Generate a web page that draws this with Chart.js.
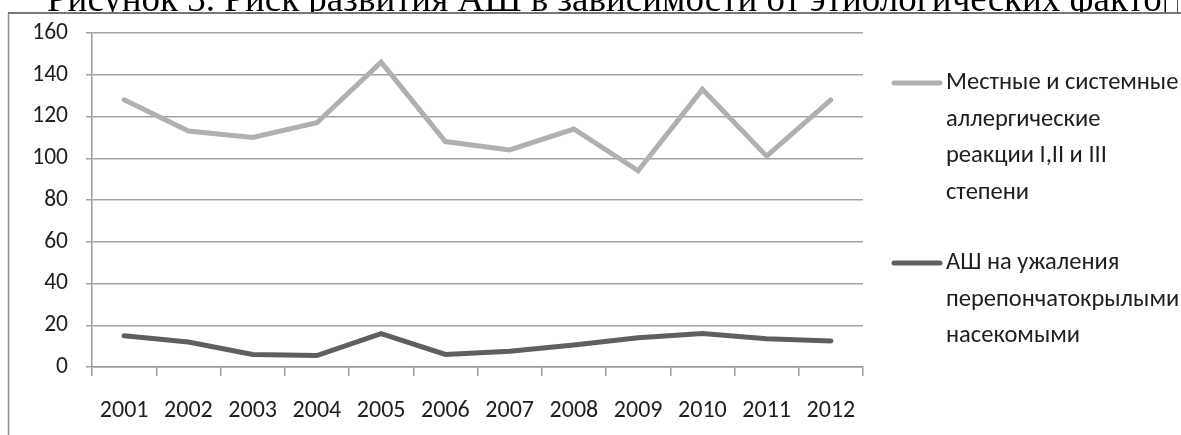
<!DOCTYPE html>
<html lang="ru">
<head>
<meta charset="utf-8">
<title>Рисунок 3</title>
<script src="https://cdn.jsdelivr.net/npm/chart.js@4/dist/chart.umd.min.js"></script>
<style>
  html, body { margin: 0; padding: 0; background: #fff; }
  #wrap { width: 1181px; height: 435px; position: relative; overflow: hidden; }
  canvas { display: block; }
</style>
</head>
<body>
<div id="wrap"><canvas id="chart" width="1181" height="435"></canvas></div>
<script>
// Years on the category axis
const years = ['2001', '2002', '2003', '2004', '2005', '2006', '2007', '2008', '2009', '2010', '2011', '2012'];

// Local and systemic allergic reactions, grades I–III
const allergicReactions = [128, 113, 110, 117, 146, 108, 104, 114, 94, 133, 101, 128];

// Anaphylactic shock after hymenoptera stings
const anaphylacticShock = [15, 12, 6, 5.5, 16, 6, 7.5, 10.5, 14, 16, 13.5, 12.5];

// Legend text, one entry per line
const allergicLegend = ['Местные и системные', 'аллергические', 'реакции I,II и III', 'степени'];
const shockLegend = ['АШ на ужаления', 'перепончатокрылыми', 'насекомыми'];

// Value axis ticks
const yMin = 0, yMax = 160, yStep = 20;

const figureTitle = 'Рисунок 3. Риск развития АШ в зависимости от этиологических факторов';

const sansFont = '"Carlito", "Calibri", "Lato", sans-serif';

// Page frame and caption above the plot
const framePlugin = {
  id: 'frame',
  beforeDraw(chart) {
    const ctx = chart.ctx;
    ctx.save();
    ctx.fillStyle = '#fff';
    ctx.fillRect(0, 0, chart.width, chart.height);

    // caption, partly hidden above the box edge
    ctx.save();
    ctx.beginPath();
    ctx.rect(0, 0, 1166, 13);
    ctx.clip();
    ctx.fillStyle = '#000';
    ctx.font = '37px "Liberation Serif", "Times New Roman", serif';
    ctx.textBaseline = 'alphabetic';
    ctx.textAlign = 'left';
    ctx.fillText(figureTitle, 47, 11);
    ctx.restore();

    ctx.strokeStyle = '#8c8c8c';
    ctx.lineWidth = 1.5;
    ctx.beginPath();
    ctx.moveTo(8.5, 13);
    ctx.lineTo(8.5, chart.height);
    ctx.stroke();

    ctx.strokeStyle = '#777';
    ctx.lineWidth = 2;
    ctx.beginPath();
    ctx.moveTo(8, 13);
    ctx.lineTo(chart.width, 13);
    ctx.stroke();

    ctx.strokeStyle = '#555';
    ctx.lineWidth = 1;
    ctx.beginPath();
    ctx.moveTo(1177.5, 0);
    ctx.lineTo(1177.5, 13);
    ctx.stroke();
    ctx.restore();
  }
};

// Legend drawn at the right of the plot, with multi-line labels
const sideLegendPlugin = {
  id: 'sideLegend',
  afterDraw(chart) {
    const ctx = chart.ctx;
    const entries = [
      { ds: chart.data.datasets[0], lines: allergicLegend, y: 83 },
      { ds: chart.data.datasets[1], lines: shockLegend, y: 263 }
    ];
    ctx.save();
    ctx.font = '24.5px ' + sansFont;
    ctx.textBaseline = 'middle';
    ctx.textAlign = 'left';
    ctx.fillStyle = '#1e1e1e';
    for (const e of entries) {
      ctx.strokeStyle = e.ds.borderColor;
      ctx.lineWidth = 5;
      ctx.lineCap = 'round';
      ctx.beginPath();
      ctx.moveTo(894, e.y);
      ctx.lineTo(940, e.y);
      ctx.stroke();
      e.lines.forEach((t, i) => ctx.fillText(t, 946, e.y + i * 36.5));
    }
    ctx.restore();
  }
};

new Chart(document.getElementById('chart'), {
  type: 'line',
  data: {
    labels: years,
    datasets: [
      {
        label: allergicLegend.join(' '),
        data: allergicReactions,
        borderColor: '#b0b0b0',
        borderWidth: 5,
        borderCapStyle: 'round',
        borderJoinStyle: 'miter',
        pointRadius: 0,
        tension: 0,
        fill: false
      },
      {
        label: shockLegend.join(' '),
        data: anaphylacticShock,
        borderColor: '#5f5f5f',
        borderWidth: 5,
        borderCapStyle: 'round',
        borderJoinStyle: 'miter',
        pointRadius: 0,
        tension: 0,
        fill: false
      }
    ]
  },
  options: {
    responsive: false,
    devicePixelRatio: 1,
    animation: false,
    layout: { padding: { left: 0, right: 318, top: 33, bottom: 0 } },
    plugins: {
      legend: { display: false },
      title: { display: false },
      tooltip: { enabled: false }
    },
    scales: {
      x: {
        type: 'category',
        offset: true,
        grid: {
          offset: true,
          drawOnChartArea: false,
          drawTicks: true,
          tickLength: 9,
          color: '#9a9a9a',
          lineWidth: 1.5
        },
        border: { display: true, color: '#9a9a9a', width: 1.5 },
        ticks: {
          color: '#1e1e1e',
          font: { family: sansFont, size: 24 },
          padding: 21,
          maxRotation: 0,
          autoSkip: false
        },
        afterFit(scale) { scale.height = 68; }
      },
      y: {
        min: yMin,
        max: yMax,
        ticks: {
          stepSize: yStep,
          color: '#1e1e1e',
          font: { family: sansFont, size: 23.5 },
          padding: 18
        },
        grid: {
          color: '#a3a3a3',
          lineWidth: 1.5,
          tickLength: 6
        },
        border: { display: true, color: '#9a9a9a', width: 1.5 },
        afterFit(scale) { scale.width = 92; }
      }
    }
  },
  plugins: [framePlugin, sideLegendPlugin]
});
</script>
</body>
</html>
